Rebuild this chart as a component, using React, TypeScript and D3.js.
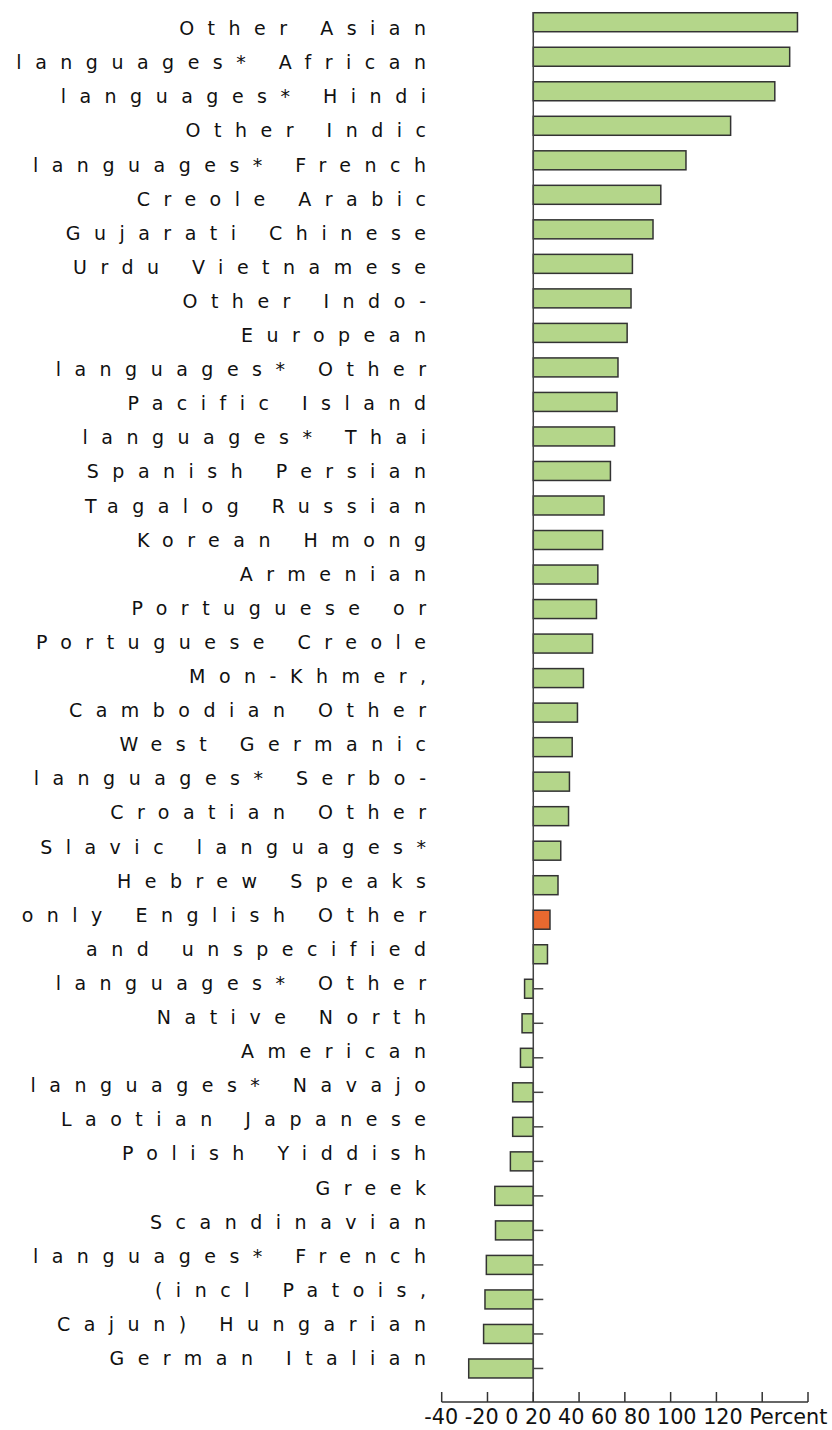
import React from "react";
import * as d3 from "d3";

const categories: string[] = [
  "Other Asian languages*",
  "African languages*",
  "Hindi",
  "Other Indic languages*",
  "French Creole",
  "Arabic",
  "Gujarati",
  "Chinese",
  "Urdu",
  "Vietnamese",
  "Other Indo-European languages*",
  "Other Pacific Island languages*",
  "Thai",
  "Spanish",
  "Persian",
  "Tagalog",
  "Russian",
  "Korean",
  "Hmong",
  "Armenian",
  "Portuguese or Portuguese Creole",
  "Mon-Khmer, Cambodian",
  "Other West Germanic languages*",
  "Serbo-Croatian",
  "Other Slavic languages*",
  "Hebrew",
  "Speaks only English",
  "Other and unspecified languages*",
  "Other Native North American languages*",
  "Navajo",
  "Laotian",
  "Japanese",
  "Polish",
  "Yiddish",
  "Greek",
  "Scandinavian languages*",
  "French (incl Patois, Cajun)",
  "Hungarian",
  "German",
  "Italian",
];

const values: number[] = [
  115.4, 112.0, 105.5, 86.2, 66.7, 55.7, 52.3, 43.3, 42.7, 41.0,
  37.0, 36.6, 35.5, 33.7, 30.9, 30.3, 28.2, 27.6, 25.9, 21.9,
  19.3, 17.0, 15.8, 15.4, 12.0, 10.8, 7.3, 6.2, -3.8, -4.9,
  -5.6, -9.0, -9.0, -10.0, -16.8, -16.5, -20.5, -21.1, -21.7, -28.2,
];

const highlighted: string[] = ["Speaks only English"];

// Category labels as they appear, wrapped line by line
const labelLines: string[] = [
  "Other Asian",
  "languages* African",
  "languages* Hindi",
  "Other Indic",
  "languages* French",
  "Creole Arabic",
  "Gujarati Chinese",
  "Urdu Vietnamese",
  "Other Indo-",
  "European",
  "languages* Other",
  "Pacific Island",
  "languages* Thai",
  "Spanish Persian",
  "Tagalog Russian",
  "Korean Hmong",
  "Armenian",
  "Portuguese or",
  "Portuguese Creole",
  "Mon-Khmer,",
  "Cambodian Other",
  "West Germanic",
  "languages* Serbo-",
  "Croatian Other",
  "Slavic languages*",
  "Hebrew Speaks",
  "only English Other",
  "and unspecified",
  "languages* Other",
  "Native North",
  "American",
  "languages* Navajo",
  "Laotian Japanese",
  "Polish Yiddish",
  "Greek",
  "Scandinavian",
  "languages* French",
  "(incl Patois,",
  "Cajun) Hungarian",
  "German Italian",
];

const xTicks: number[] = [-40, -20, 0, 20, 40, 60, 80, 100, 120];
const axisTitle = "Percent";

const W = 832;
const H = 1430;
const GREEN = "#b4d68a";
const ORANGE = "#e8692f";
const STROKE = "#333333";

export default function App() {
  const x = d3.scaleLinear().domain([-40, 120]).range([441.7, 808]);
  const y = d3
    .scaleBand<string>()
    .domain(categories)
    .range([-2.8, 1393.5])
    .paddingInner(0.45)
    .paddingOuter(0.45);
  const bw = y.bandwidth();
  const x0 = x(0);
  const axisY = 1402;
  const LS = 13.5;
  // wrapped label block: line baselines
  const lineY = d3
    .scaleLinear()
    .domain([0, labelLines.length - 1])
    .range([35.1, 1365]);

  const tickText = xTicks.map((t) => String(t)).join(" ") + " " + axisTitle;

  return (
    <svg
      width={W}
      height={H}
      style={{ position: "absolute", left: 0, top: 0, background: "#fff" }}
    >
      {/* category labels */}
      <g
        fontFamily="'DejaVu Sans', sans-serif"
        fontSize={19}
        fill="#111"
        textAnchor="end"
        style={{ letterSpacing: `${LS}px` }}
      >
        {labelLines.map((l, i) => (
          <text key={i} x={426 + LS} y={lineY(i)}>
            {l}
          </text>
        ))}
      </g>

      {/* y ticks */}
      <g stroke="#444" strokeWidth={1.5}>
        {categories.map((c) => (
          <line
            key={c}
            x1={x0}
            x2={x0 + 10}
            y1={(y(c) as number) + bw / 2}
            y2={(y(c) as number) + bw / 2}
          />
        ))}
      </g>

      {/* bars */}
      <g>
        {categories.map((c, i) => {
          const v = values[i];
          const xa = Math.min(x(v), x0);
          const xb = Math.max(x(v), x0);
          return (
            <rect
              key={c}
              x={xa}
              y={y(c)}
              width={xb - xa}
              height={bw}
              fill={highlighted.includes(c) ? ORANGE : GREEN}
              stroke={STROKE}
              strokeWidth={1.5}
            />
          );
        })}
      </g>

      {/* zero line */}
      <line x1={x0} x2={x0} y1={12} y2={axisY} stroke="#444" strokeWidth={1.5} />

      {/* x axis */}
      <line
        x1={x(-40)}
        x2={x(120)}
        y1={axisY}
        y2={axisY}
        stroke="#333"
        strokeWidth={1.5}
      />
      {xTicks.map((t) => (
        <line
          key={t}
          x1={x(t)}
          x2={x(t)}
          y1={axisY - 10}
          y2={axisY}
          stroke="#333"
          strokeWidth={1.5}
        />
      ))}
      <text
        x={(x(-40) + x(120)) / 2 + 1}
        y={1424}
        textAnchor="middle"
        fontFamily="'DejaVu Sans', sans-serif"
        fontSize={20.5}
        fill="#111"
        textLength={403}
        lengthAdjust="spacingAndGlyphs"
      >
        {tickText}
      </text>
    </svg>
  );
}
